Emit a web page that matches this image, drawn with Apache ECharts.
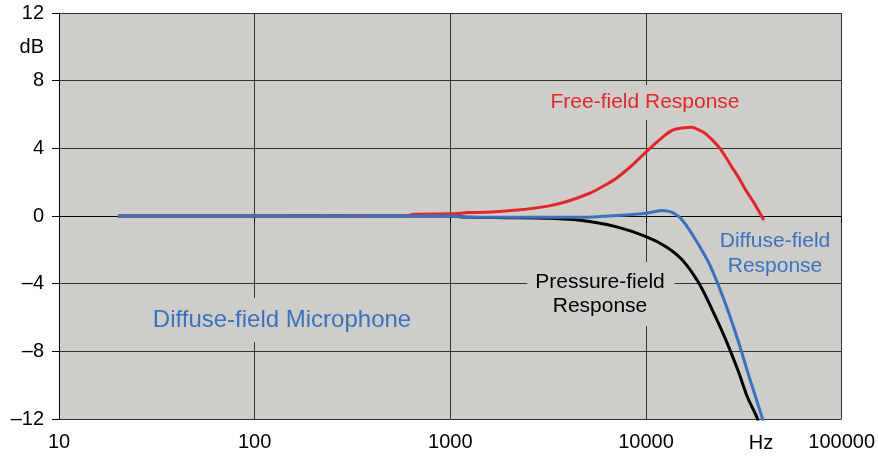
<!DOCTYPE html>
<html><head><meta charset="utf-8">
<script src="https://cdn.jsdelivr.net/npm/echarts@6/dist/echarts.min.js"></script>
<style>html,body{margin:0;padding:0;background:#fff}#c{width:878px;height:456px}</style>
</head><body><div id="c"></div>
<script>
const xTicks = [10, 100, 1000, 10000, 100000];
const yTicks = [-12, -8, -4, 0, 4, 8, 12];

const freeFreq = [20, 600, 650, 1000, 1250, 1500, 1778, 2200, 2620, 3200, 3908, 5120, 5980, 7030, 8500, 10000, 11640, 13580, 15300, 17170, 18500, 20230, 23570, 25500, 27470, 30000, 32360, 36000, 40000];
const freeDb   = [0, 0.02, 0.1, 0.13, 0.2, 0.22, 0.27, 0.35, 0.45, 0.6, 0.84, 1.33, 1.73, 2.22, 3.0, 3.78, 4.47, 5.06, 5.2, 5.25, 5.1, 4.86, 4.08, 3.5, 2.9, 2.2, 1.53, 0.7, -0.24];

const diffFreq = [20, 1000, 1250, 2000, 3000, 4710, 6000, 7910, 10000, 11000, 12070, 12600, 13580, 14500, 15300, 16500, 17940, 20960, 23570, 26500, 29800, 33560, 39200, 40000];
const diffDb   = [0, 0, -0.08, -0.08, -0.08, -0.08, -0.02, 0.06, 0.16, 0.25, 0.33, 0.31, 0.22, 0.02, -0.24, -0.75, -1.41, -2.78, -4.16, -5.73, -7.49, -9.45, -11.9, -12.3];

const presFreq = [20, 1000, 1250, 2000, 3200, 4710, 7000, 10000, 12600, 15300, 18620, 21780, 25530, 29800, 33000, 36920, 37500];
const presDb   = [0, 0, -0.08, -0.1, -0.14, -0.27, -0.63, -1.22, -1.8, -2.59, -3.96, -5.53, -7.29, -9.25, -10.7, -11.9, -12.2];

const pair = (f, d) => f.map((v, i) => [v, d[i]]);
const FONT = "'Liberation Sans', Arial, sans-serif";
const BG = '#cfcdc9';

const chart = echarts.init(document.getElementById('c'), null, {renderer: 'canvas'});
chart.setOption({
  animation: false,
  backgroundColor: '#ffffff',
  grid: {left: 59, right: 35, top: 13, bottom: 37, show: true, backgroundColor: BG, borderWidth: 0},
  xAxis: {
    type: 'log', logBase: 10, min: xTicks[0], max: xTicks[xTicks.length - 1],
    axisLine: {show: true, lineStyle: {color: '#000', width: 1}},
    axisTick: {show: true, length: 7, lineStyle: {color: '#000'}},
    minorTick: {show: false},
    splitLine: {show: true, lineStyle: {color: '#333', width: 1}},
    axisLabel: {color: '#000', fontSize: 20, fontFamily: FONT, margin: 13,
      formatter: v => String(Math.round(v))}
  },
  yAxis: {
    type: 'value', min: yTicks[0], max: yTicks[yTicks.length - 1], interval: 4,
    axisLine: {show: true, lineStyle: {color: '#000', width: 1}},
    axisTick: {show: true, length: 7, lineStyle: {color: '#000'}},
    splitLine: {show: true, lineStyle: {color: '#333', width: 1}},
    axisLabel: {color: '#000', fontSize: 20, fontFamily: FONT, margin: 15,
      formatter: v => v < 0 ? '\u2013' + Math.abs(v) : String(v)}
  },
  series: [
    {name: 'Pressure-field Response', type: 'line', data: pair(presFreq, presDb), showSymbol: false, smooth: 0.3,
      lineStyle: {color: '#000000', width: 3}, z: 2},
    {name: 'Free-field Response', type: 'line', data: pair(freeFreq, freeDb), showSymbol: false, smooth: 0.3,
      lineStyle: {color: '#e0272c', width: 3}, z: 3},
    {name: 'Diffuse-field Response', type: 'line', data: pair(diffFreq, diffDb), showSymbol: false, smooth: 0.3,
      lineStyle: {color: '#3a72bf', width: 3}, z: 4}
  ],
  graphic: [
    {type: 'text', z: 10, style: {text: 'dB', x: 44, y: 47, align: 'right', verticalAlign: 'middle', font: '20px ' + FONT, fill: '#000'}},
    {type: 'text', z: 10, style: {text: 'Hz', x: 761, y: 443, align: 'center', verticalAlign: 'middle', font: '20px ' + FONT, fill: '#000'}},
    {type: 'text', z: 10, style: {text: 'Free-field Response', x: 645, y: 102.5, align: 'center', verticalAlign: 'middle',
      font: '21px ' + FONT, fill: '#e0272c', backgroundColor: BG, padding: [8, 6, 6, 6]}},
    {type: 'text', z: 10, style: {text: 'Pressure-field\nResponse', x: 601, y: 294, align: 'center', verticalAlign: 'middle',
      font: '21px ' + FONT, lineHeight: 24.5, fill: '#000', backgroundColor: BG, padding: [8, 10, 7, 8]}},
    {type: 'text', z: 10, style: {text: 'Diffuse-field\nResponse', x: 775, y: 254, align: 'center', verticalAlign: 'middle',
      font: '21px ' + FONT, lineHeight: 25, fill: '#3a72bf'}},
    {type: 'text', z: 10, style: {text: 'Diffuse-field Microphone', x: 282, y: 320, align: 'center', verticalAlign: 'middle',
      font: '24px ' + FONT, fill: '#3a72bf', backgroundColor: BG, padding: [13, 6, 7, 6]}}
  ]
});
</script></body></html>
